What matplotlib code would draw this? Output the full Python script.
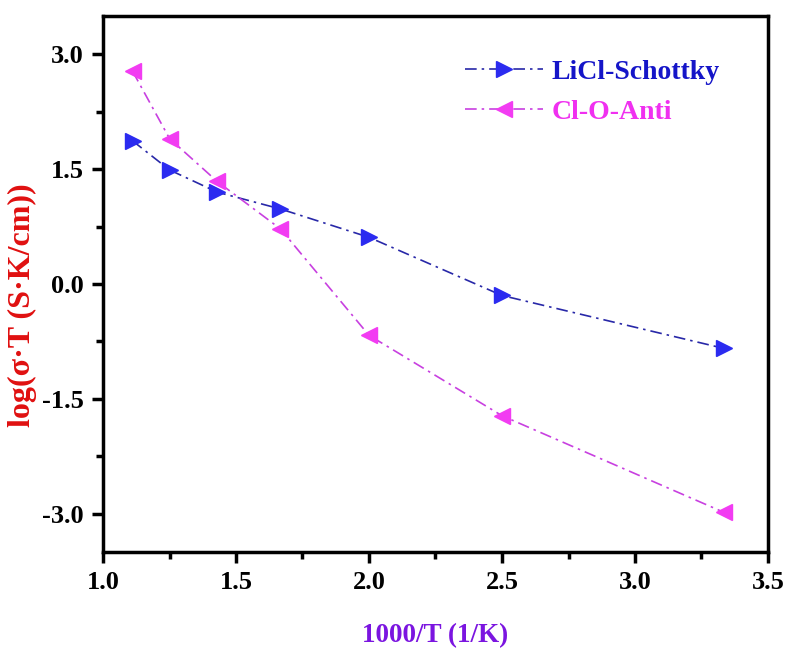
import matplotlib.pyplot as plt
import numpy as np

# data
inv_T = [1.111, 1.25, 1.429, 1.667, 2.0, 2.5, 3.333]
schottky = [1.87, 1.49, 1.20, 0.98, 0.61, -0.15, -0.84]
anti = [2.78, 1.90, 1.34, 0.72, -0.67, -1.72, -2.98]
xticks = [1.0, 1.5, 2.0, 2.5, 3.0, 3.5]
yticks = [-3.0, -1.5, 0.0, 1.5, 3.0]

plt.rcParams['font.family'] = ['Liberation Serif', 'DejaVu Serif']
plt.rcParams['font.weight'] = 'bold'

fig = plt.figure(figsize=(7.89, 6.49), dpi=100)
ax = fig.add_axes([103/789, 1 - 552/649, (768-103)/789, (552-16)/649])

dash = (0, (7, 3, 1.5, 3))
ax.plot(inv_T, schottky, linestyle=dash, color='#2828A8', lw=1.2,
        marker='>', ms=11, mfc='#2B2BF0', mec='#2B2BF0', label='LiCl-Schottky')
ax.plot(inv_T, anti, linestyle=dash, color='#C840E0', lw=1.2,
        marker='<', ms=11, mfc='#F23CF2', mec='#F23CF2', label='Cl-O-Anti')

ax.set_xlim(1.0, 3.5)
ax.set_ylim(-3.5, 3.5)
ax.set_xticks(xticks)
ax.set_yticks(yticks)
ax.set_xticklabels([f'{v:.1f}' for v in xticks])
ax.set_yticklabels([f'{v:.1f}' for v in yticks])
ax.set_xticks(np.arange(1.25, 3.5, 0.5), minor=True)
ax.set_yticks(np.arange(-2.25, 3.0, 1.5), minor=True)
ax.tick_params(which='both', direction='out', width=2.5, top=False, right=False,
               labelsize=19, pad=6)
ax.tick_params(which='major', length=8)
ax.tick_params(which='minor', length=5)
for s in ax.spines.values():
    s.set_linewidth(2.5)

ax.set_xlabel('1000/T (1/K)', color='#7B15E0', fontsize=19.5, fontweight='bold')
ax.xaxis.set_label_coords(0.499, -0.132)
ax.set_ylabel('log(σ·T (S·K/cm))', color='#E01010', fontsize=23, fontweight='bold')
ax.yaxis.set_label_coords(-0.099, 0.461)

leg = ax.legend(loc='upper right', bbox_to_anchor=(0.965, 0.965), frameon=False,
                fontsize=20, handlelength=2.8, handletextpad=0.3, labelspacing=0.5,
                markerscale=1.05)
for txt, c in zip(leg.get_texts(), ['#1515C8', '#F030F0']):
    txt.set_color(c)

fig.savefig('out.png', dpi=100)
